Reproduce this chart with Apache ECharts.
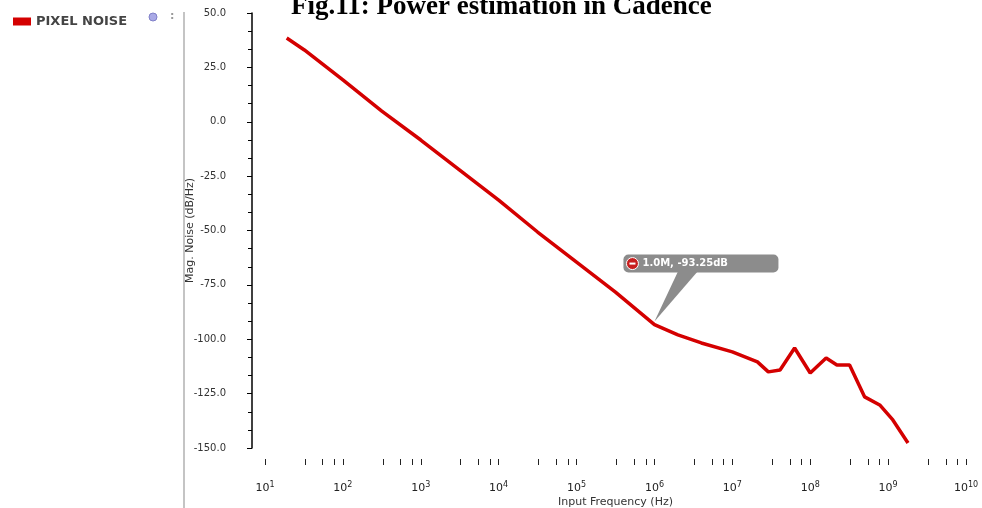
<!DOCTYPE html>
<html>
<head>
<meta charset="utf-8">
<script src="https://cdn.jsdelivr.net/npm/echarts@6/dist/echarts.min.js"></script>
<style>
  html, body { margin: 0; padding: 0; background: #fff; }
  #chart { width: 982px; height: 508px; }
</style>
</head>
<body>
<div id="chart"></div>
<script>
// Input-referred pixel noise versus frequency (Cadence AC noise sweep)
const titleText = 'Fig.11: Power estimation in Cadence';
const seriesName = 'PIXEL NOISE';
const xAxisTitle = 'Input Frequency (Hz)';
const yAxisTitle = 'Mag. Noise (dB/Hz)';

// sweep frequencies (Hz) and noise magnitude (dB)
const freqHz = [19, 32, 100, 316, 1000, 3162, 1e4, 3.16e4, 1e5, 3.16e5, 1e6, 2e6, 4e6, 1e7,
                2.1e7, 2.9e7, 4.1e7, 6.3e7, 1e8, 1.6e8, 2.2e8, 3.2e8, 5e8, 7.8e8, 1.15e9, 1.8e9];
const noiseDb = [38.5, 33.0, 19.2, 4.9, -8.4, -22.2, -36.0, -50.7, -64.5, -78.3, -93.25, -98.0, -101.7, -105.8,
                 -110.4, -115.0, -114.1, -104.0, -115.5, -108.6, -111.8, -111.8, -126.5, -130.2, -137.1, -147.7];

// y-axis tick values
const yTicks = [-150, -125, -100, -75, -50, -25, 0, 25, 50];

// marker readout
const markerFreq = 1e6;
const markerDb = -93.25;
const markerText = '1.0M, -93.25dB';

const chart = echarts.init(document.getElementById('chart'));

chart.setOption({
  animation: false,
  backgroundColor: '#ffffff',
  title: {
    text: titleText,
    left: 286,
    top: -11,
    textStyle: { fontFamily: 'Liberation Serif', fontWeight: 'bold', fontSize: 27, color: '#000' }
  },
  legend: {
    left: 8,
    top: 10,
    icon: 'rect',
    itemWidth: 18,
    itemHeight: 8,
    itemGap: 4,
    data: [seriesName],
    textStyle: { fontFamily: 'DejaVu Sans', fontSize: 13, fontWeight: 'bold', color: '#444' }
  },
  grid: { left: 265, right: 16, top: 13, bottom: 60, containLabel: false, outerBoundsMode: 'none' },
  xAxis: {
    type: 'log',
    logBase: 10,
    min: 10,
    max: 1e10,
    offset: 11,
    name: xAxisTitle,
    nameLocation: 'middle',
    nameGap: 38,
    nameMoveOverlap: false,
    nameTextStyle: { fontFamily: 'DejaVu Sans', fontSize: 11, color: '#333' },
    axisLine: { show: false, onZero: false },
    axisTick: { show: true, inside: false, length: 6, lineStyle: { color: '#222', width: 1 } },
    minorTick: { show: true, splitNumber: 4, length: 6, lineStyle: { color: '#222', width: 1 } },
    splitLine: { show: false },
    axisLabel: {
      margin: 22,
      fontFamily: 'DejaVu Sans',
      color: '#222',
      formatter: function (v) {
        const e = Math.round(Math.log10(v));
        return '10{s|' + e + '}';
      },
      rich: { s: { fontSize: 8, verticalAlign: 'top', padding: [0, 0, 7, 0], color: '#222' } },
      fontSize: 11
    }
  },
  yAxis: {
    type: 'value',
    min: yTicks[0],
    max: yTicks[yTicks.length - 1],
    interval: 25,
    offset: 13,
    name: yAxisTitle,
    nameLocation: 'middle',
    nameGap: 56,
    nameMoveOverlap: false,
    nameTextStyle: { fontFamily: 'DejaVu Sans', fontSize: 11, color: '#333' },
    axisLine: { show: true, lineStyle: { color: '#000', width: 1.5 } },
    axisTick: { show: true, length: 5, lineStyle: { color: '#000' } },
    minorTick: { show: true, splitNumber: 3, length: 4, lineStyle: { color: '#000' } },
    splitLine: { show: false },
    axisLabel: {
      margin: 26,
      fontFamily: 'DejaVu Sans',
      fontSize: 10,
      color: '#333',
      formatter: function (v) { return v.toFixed(1); }
    }
  },
  series: [{
    name: seriesName,
    type: 'line',
    data: freqHz.map((f, i) => [f, noiseDb[i]]),
    showSymbol: false,
    symbol: 'none',
    lineStyle: { color: '#d40000', width: 3.5 },
    itemStyle: { color: '#d40000' }
  }]
});

// legend extras and panel divider
const extras = [
  { type: 'circle', shape: { cx: 153, cy: 17, r: 4 }, style: { fill: '#a9a9e6', stroke: '#8080c8', lineWidth: 1 } },
  { type: 'text', style: { x: 170, y: 11, text: ':', fill: '#999', font: 'bold 11px DejaVu Sans' } },
  { type: 'line', shape: { x1: 184, y1: 12, x2: 184, y2: 508 }, style: { stroke: '#c4c4c4', lineWidth: 2 } }
];

// marker callout anchored to the traced point
const p = chart.convertToPixel({ xAxisIndex: 0, yAxisIndex: 0 }, [markerFreq, markerDb]);
const bx = p[0] - 31, by = p[1] - 70;
const callout = [
  { type: 'polygon', shape: { points: [[p[0] + 24, by + 16], [p[0] + 44, by + 16], [p[0], p[1] - 3]] },
    style: { fill: '#8c8c8c' } },
  { type: 'rect', shape: { x: bx, y: by, width: 155, height: 18, r: 5 }, style: { fill: '#8c8c8c' } },
  { type: 'circle', shape: { cx: bx + 9, cy: by + 9, r: 6 }, style: { fill: '#c81e1e', stroke: '#fff', lineWidth: 1 } },
  { type: 'rect', shape: { x: bx + 6, y: by + 8, width: 6, height: 2 }, style: { fill: '#fff' } },
  { type: 'text', style: { x: bx + 19, y: by + 4, text: markerText, fill: '#fff', font: 'bold 10px DejaVu Sans' } }
];

chart.setOption({ graphic: extras.concat(callout) });
</script>
</body>
</html>
